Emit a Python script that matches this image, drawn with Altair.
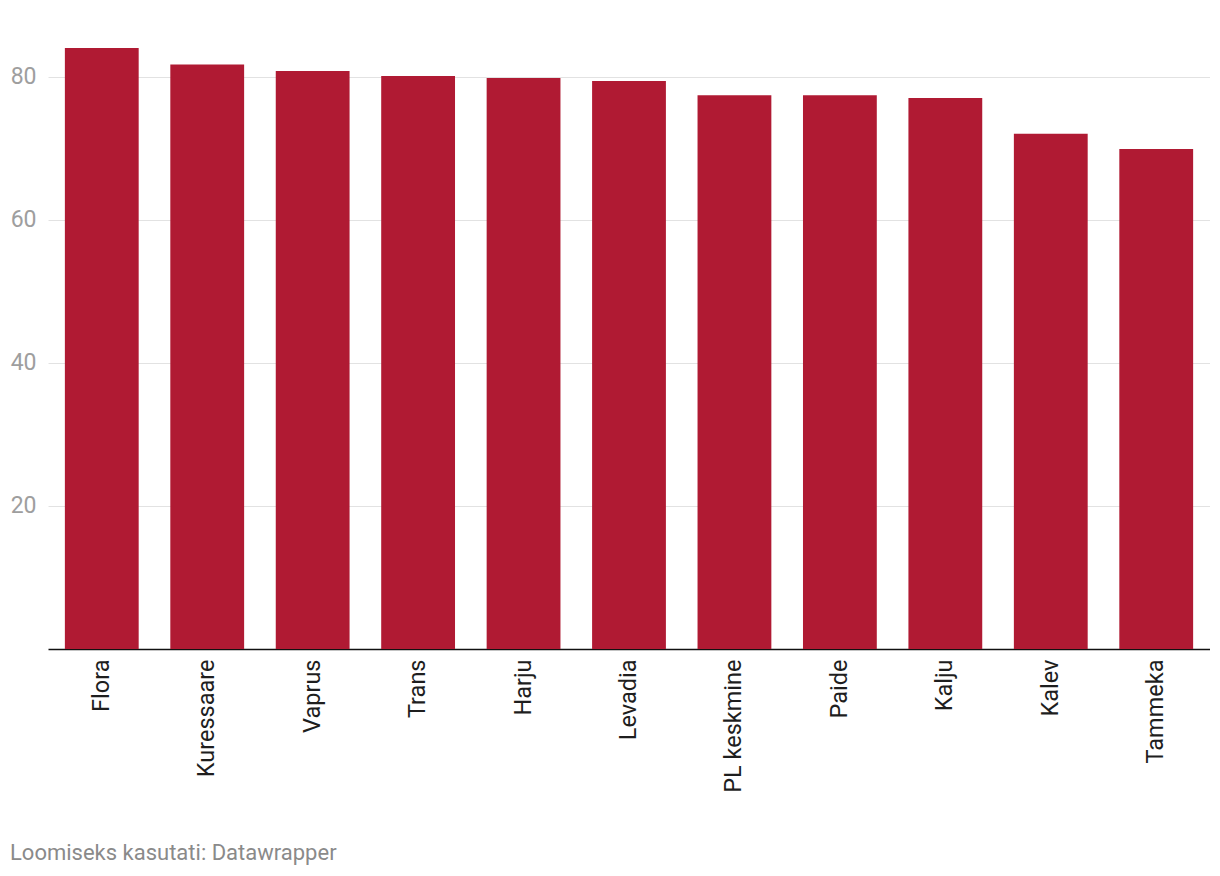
import altair as alt
import pandas as pd

teams = ["Flora", "Kuressaare", "Vaprus", "Trans", "Harju", "Levadia",
         "PL keskmine", "Paide", "Kalju", "Kalev", "Tammeka"]
values = [84.0, 81.7, 80.8, 80.1, 79.8, 79.4, 77.4, 77.4, 77.0, 72.0, 69.9]
y_ticks = [20, 40, 60, 80]
credit = "Loomiseks kasutati: Datawrapper"

df = pd.DataFrame({"team": teams, "value": values})

FONT = "Roboto"

bars = alt.Chart(df).mark_bar(color="#b01a33").encode(
    x=alt.X("team:N", sort=teams,
            scale=alt.Scale(paddingInner=0.3, paddingOuter=0.16),
            axis=alt.Axis(title=None, labelAngle=-90, labelFontSize=23.5,
                          labelColor="#1e1e1e", labelFont=FONT,
                          labelPadding=10, ticks=False, domainColor="#111111",
                          domainWidth=1.5, grid=False)),
    y=alt.Y("value:Q", scale=alt.Scale(domain=[0, 84], nice=False),
            axis=alt.Axis(title=None, values=y_ticks, labelFontSize=23,
                          labelColor="#9e9e9e", labelFont=FONT,
                          labelPadding=12, ticks=False, domain=False,
                          gridColor="#e2e2e2", gridWidth=1)),
)

credit_df = pd.DataFrame({"t": [credit]})
credit_text = alt.Chart(credit_df).mark_text(
    align="left", baseline="middle", fontSize=22, font=FONT, color="#8a8a8a"
).encode(text="t:N", x=alt.value(-38), y=alt.value(805))

chart = alt.layer(bars, credit_text).properties(
    width=1162, height=601,
    autosize=alt.AutoSizeParams(type="none"),
    padding={"left": 40, "top": 40, "right": 0, "bottom": 220},
).configure_view(stroke=None)

chart.save("out.html", embed_options={"renderer": "svg", "actions": False})
